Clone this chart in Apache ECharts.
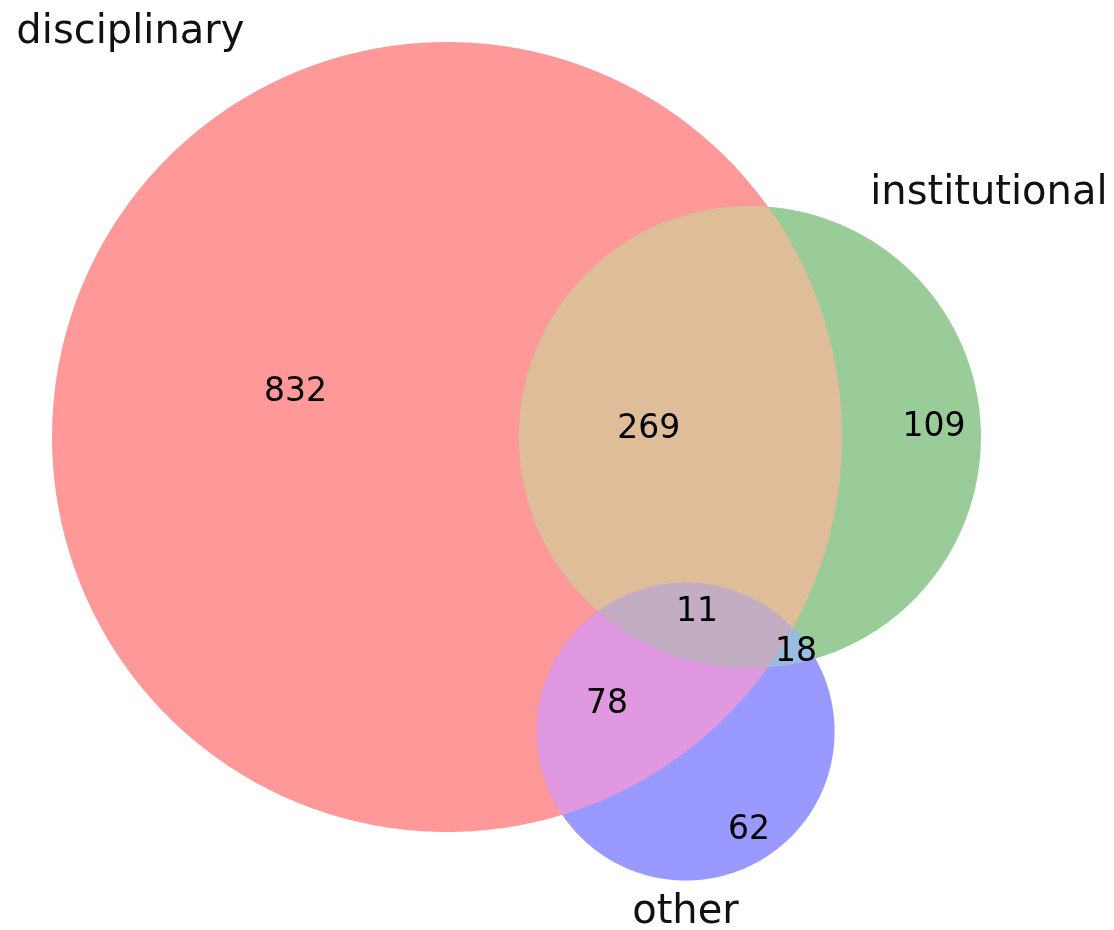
<!DOCTYPE html>
<html>
<head>
<meta charset="utf-8">
<script src="https://cdn.jsdelivr.net/npm/echarts@6/dist/echarts.min.js"></script>
<style>
  html, body { margin: 0; background: #fff; }
  #chart { width: 1114px; height: 930px; }
</style>
</head>
<body>
<div id="chart"></div>
<script>
// 3-set venn: region keys are bits for (disciplinary, institutional, other)
const setNames = ['disciplinary', 'institutional', 'other'];
const regionKeys = ['100', '010', '110', '001', '101', '011', '111'];
const regionCounts = [832, 109, 269, 62, 78, 18, 11];
const setColors = [[1, 0, 0], [0, 0.5, 0], [0, 0, 1]]; // matplotlib 'r', 'g', 'b'

// label anchors, in venn units (first circle centre = 0,0)
const regionLabelPos = [[-7.46, 2.2], [24.0, 0.48], [9.94, 0.38], [14.88, -19.4], [7.88, -13.16], [17.2, -10.6], [12.32, -8.63]];
const setLabelPos = [[-15.6, 19.95], [26.7, 12.0], [11.75, -23.45]];

// page layout
const W = 1114, H = 930;
const PX_PER_UNIT = 20.295;
const ORIGIN = [447, 437];
const ALPHA = 0.4;

// --- area-proportional geometry from the counts ---
function countWhere(test) {
  let s = 0;
  regionKeys.forEach((k, i) => { if (test(k)) s += regionCounts[i]; });
  return s;
}
const sizes = [0, 1, 2].map(i => countWhere(k => k[i] === '1'));
const radii = sizes.map(s => Math.sqrt(s / Math.PI));

function lensArea(r1, r2, d) {
  if (d >= r1 + r2) return 0;
  if (d <= Math.abs(r1 - r2)) return Math.PI * Math.min(r1, r2) ** 2;
  const a1 = Math.acos((d * d + r1 * r1 - r2 * r2) / (2 * d * r1));
  const a2 = Math.acos((d * d + r2 * r2 - r1 * r1) / (2 * d * r2));
  const k = Math.sqrt((-d + r1 + r2) * (d + r1 - r2) * (d - r1 + r2) * (d + r1 + r2));
  return r1 * r1 * a1 + r2 * r2 * a2 - 0.5 * k;
}
function solveDist(i, j) {
  const target = countWhere(k => k[i] === '1' && k[j] === '1');
  let lo = Math.abs(radii[i] - radii[j]), hi = radii[i] + radii[j];
  for (let n = 0; n < 100; n++) {
    const mid = (lo + hi) / 2;
    if (lensArea(radii[i], radii[j], mid) > target) lo = mid; else hi = mid;
  }
  return (lo + hi) / 2;
}
const dAB = solveDist(0, 1), dAC = solveDist(0, 2), dBC = solveDist(1, 2);
const cx = (dAC * dAC - dBC * dBC + dAB * dAB) / (2 * dAB);
const centers = [[0, 0], [dAB, 0], [cx, -Math.sqrt(dAC * dAC - cx * cx)]];

// circle polygons + convex clipping for the overlaps
function circlePoly(i) {
  const pts = [];
  for (let n = 0; n < 720; n++) {
    const t = n / 720 * Math.PI * 2;
    pts.push([centers[i][0] + radii[i] * Math.cos(t), centers[i][1] + radii[i] * Math.sin(t)]);
  }
  return pts;
}
function clip(subject, clipPoly) {
  let out = subject;
  for (let e = 0; e < clipPoly.length; e++) {
    const a = clipPoly[e], b = clipPoly[(e + 1) % clipPoly.length];
    const inside = p => (b[0] - a[0]) * (p[1] - a[1]) - (b[1] - a[1]) * (p[0] - a[0]) >= 0;
    const cross = (p, q) => {
      const dx = q[0] - p[0], dy = q[1] - p[1];
      const ex = b[0] - a[0], ey = b[1] - a[1];
      const t = (ex * (p[1] - a[1]) - ey * (p[0] - a[0])) / (ey * dx - ex * dy);
      return [p[0] + t * dx, p[1] + t * dy];
    };
    const input = out;
    out = [];
    for (let n = 0; n < input.length; n++) {
      const p = input[n], q = input[(n + 1) % input.length];
      const pin = inside(p), qin = inside(q);
      if (pin) out.push(p);
      if (pin !== qin) out.push(cross(p, q));
    }
    if (!out.length) break;
  }
  return out;
}
const circles = [0, 1, 2].map(circlePoly);

function mixColor(idx) {
  let c = [0, 0, 0];
  idx.forEach(i => { c = c.map((v, k) => v + setColors[i][k]); });
  const f = idx.length === 1 ? 1 : idx.length === 2 ? 0.7 : 0.4;
  c = c.map(v => Math.min(1, v * f));
  const rgb = c.map(v => Math.round(255 * (ALPHA * v + 1 - ALPHA)));
  return 'rgb(' + rgb.join(',') + ')';
}

// painter order: whole circles first, then the overlaps on top
const paintSets = [[0], [1], [2], [0, 1], [0, 2], [1, 2], [0, 1, 2]];
const shapes = paintSets.map(idx => {
  let poly = circles[idx[0]];
  for (let n = 1; n < idx.length; n++) poly = clip(poly, circles[idx[n]]);
  return { poly, color: mixColor(idx) };
});

const chart = echarts.init(document.getElementById('chart'));
chart.setOption({
  animation: false,
  grid: { left: 0, right: 0, top: 0, bottom: 0 },
  xAxis: { type: 'value', show: false, min: -ORIGIN[0] / PX_PER_UNIT, max: (W - ORIGIN[0]) / PX_PER_UNIT },
  yAxis: { type: 'value', show: false, min: -(H - ORIGIN[1]) / PX_PER_UNIT, max: ORIGIN[1] / PX_PER_UNIT },
  series: [
    {
      type: 'custom',
      data: shapes.map((s, i) => [i, 0]),
      renderItem: function (params, api) {
        const s = shapes[params.dataIndex];
        return {
          type: 'polygon',
          shape: { points: s.poly.map(p => api.coord(p)) },
          style: { fill: s.color }
        };
      }
    },
    {
      type: 'custom',
      data: regionLabelPos.map((p, i) => [p[0], p[1], regionCounts[i]]),
      renderItem: function (params, api) {
        const pt = api.coord([api.value(0), api.value(1)]);
        return {
          type: 'text',
          style: {
            text: String(api.value(2)), x: pt[0], y: pt[1],
            align: 'center', verticalAlign: 'middle',
            fill: '#000', fontSize: 33, fontFamily: 'DejaVu Sans'
          }
        };
      }
    },
    {
      type: 'custom',
      data: setLabelPos.map((p, i) => [p[0], p[1], i]),
      renderItem: function (params, api) {
        const pt = api.coord([api.value(0), api.value(1)]);
        return {
          type: 'text',
          style: {
            text: setNames[api.value(2)], x: pt[0], y: pt[1],
            align: 'center', verticalAlign: 'middle',
            fill: '#111', fontSize: 40, fontFamily: 'DejaVu Sans'
          }
        };
      }
    }
  ]
});
</script>
</body>
</html>
